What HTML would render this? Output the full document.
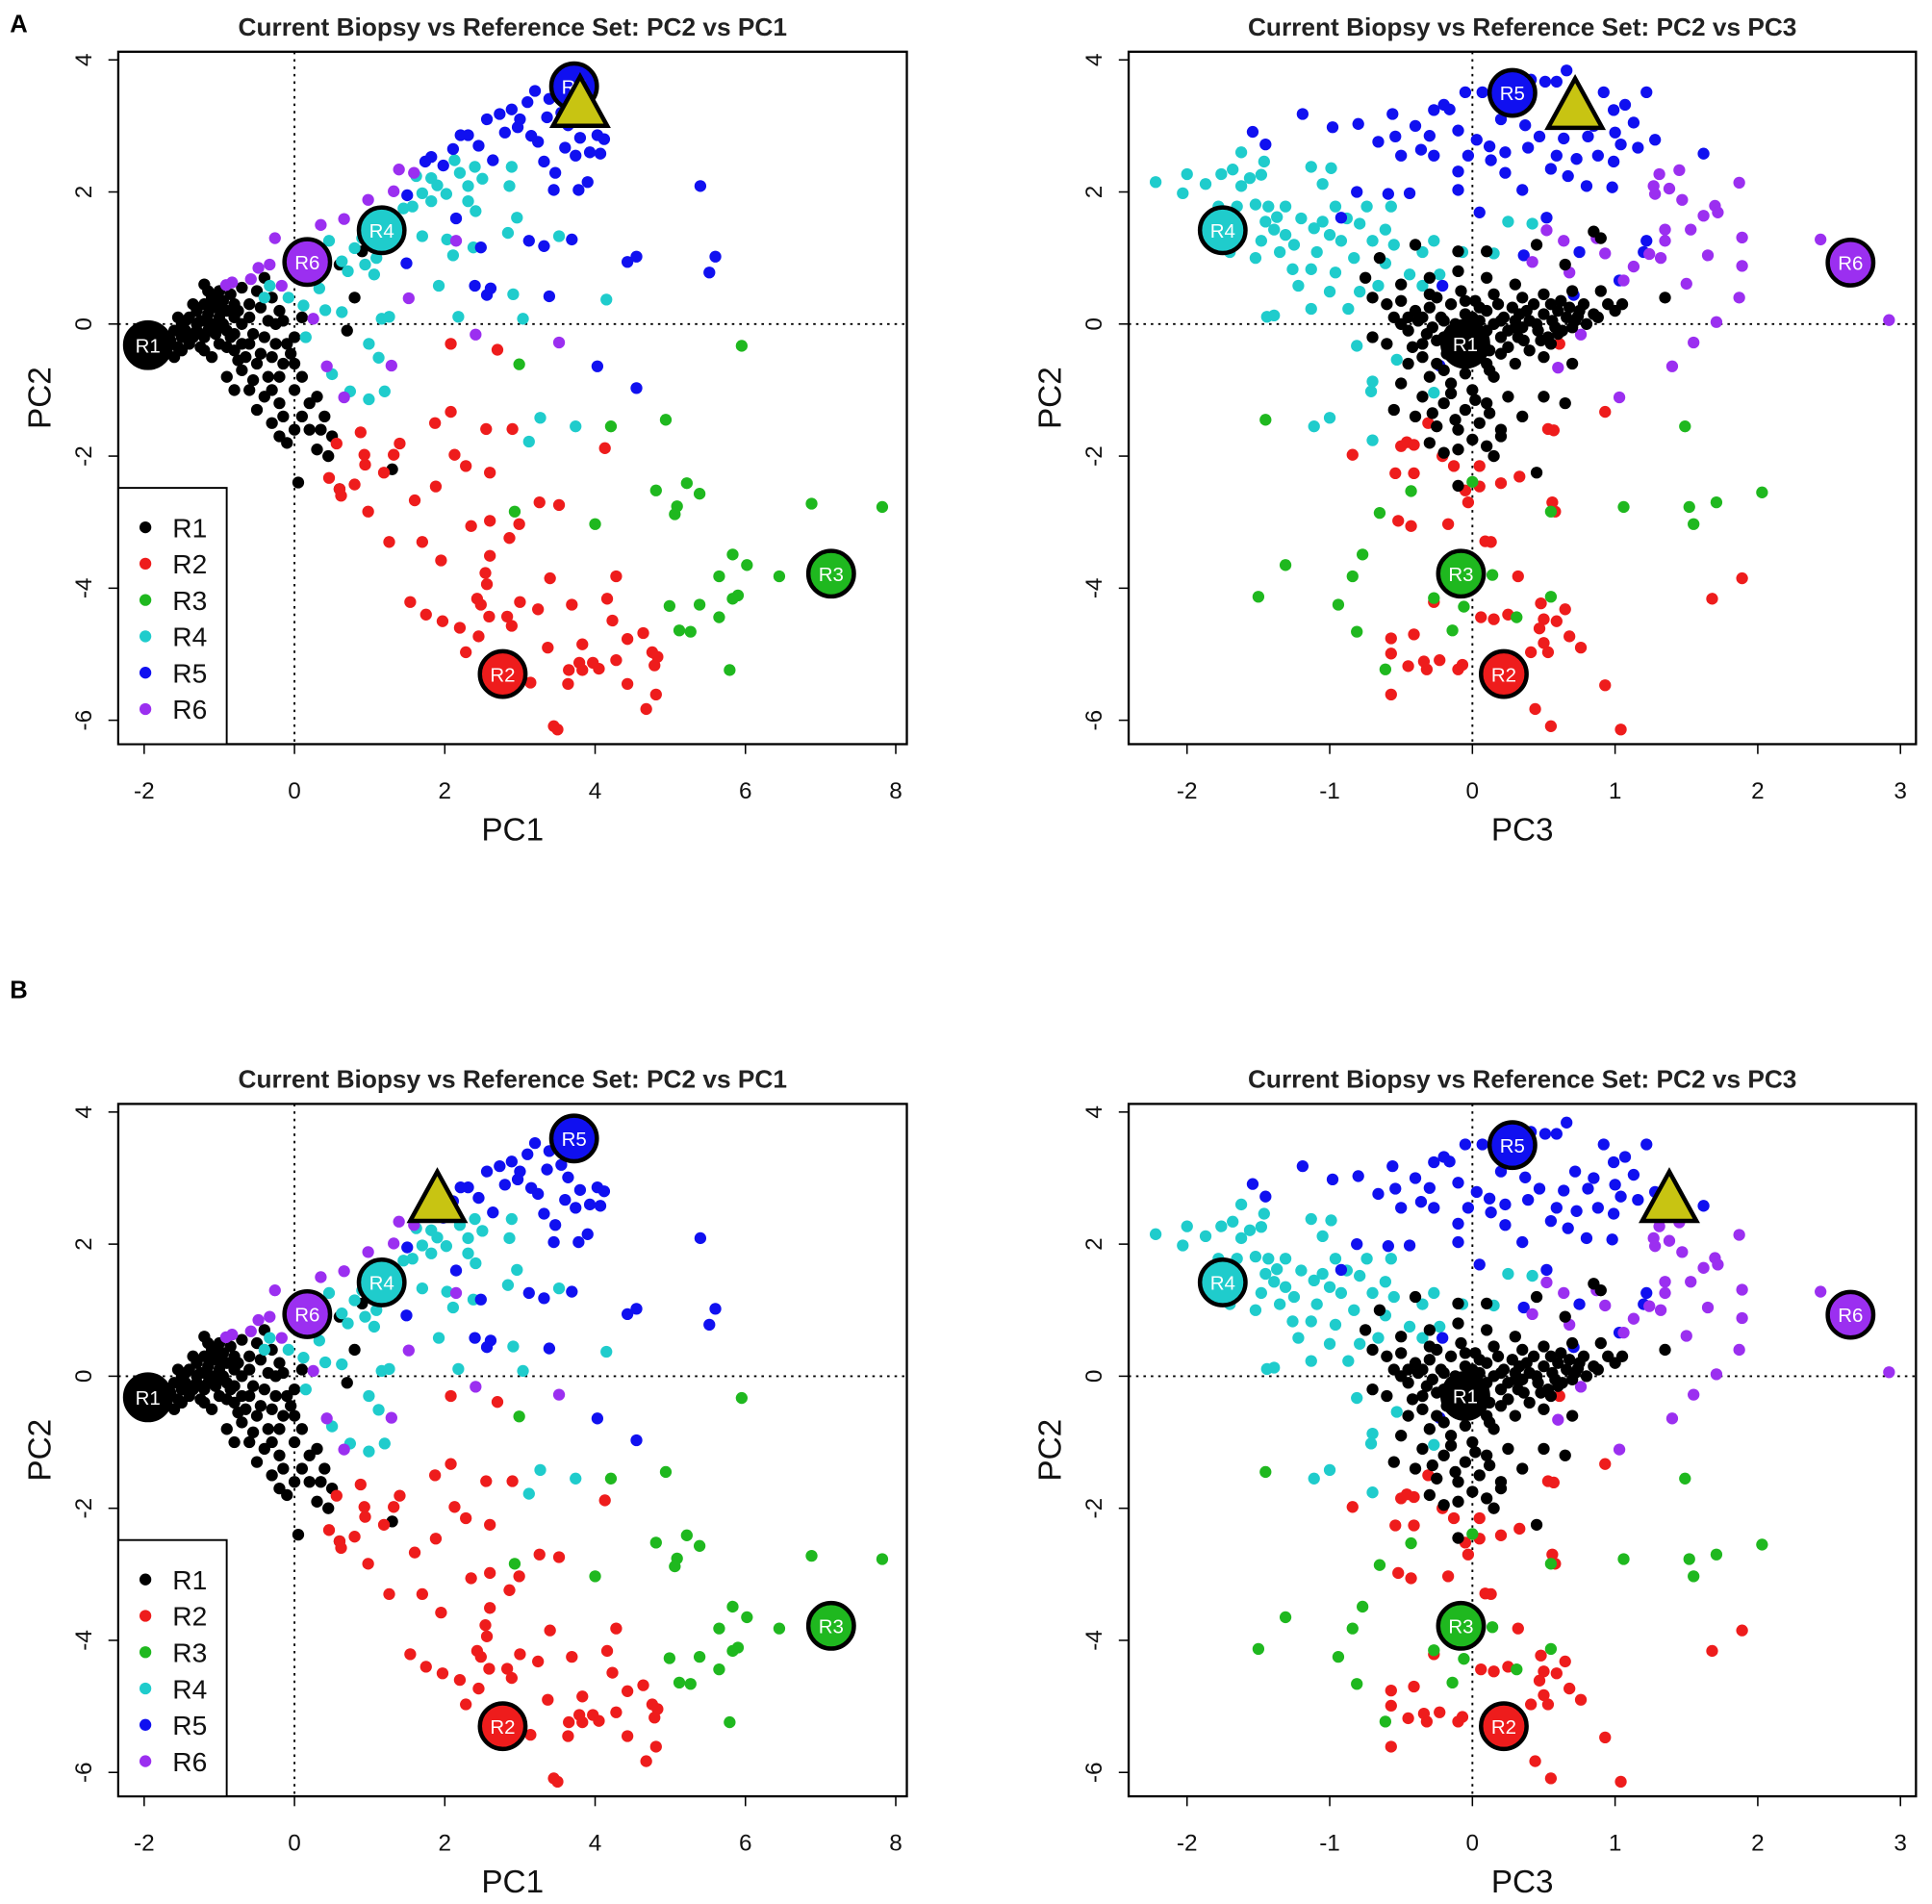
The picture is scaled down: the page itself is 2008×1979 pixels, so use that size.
<!DOCTYPE html>
<html><head><meta charset="utf-8"><style>
html,body{margin:0;padding:0;background:#fff}
svg{display:block}
text{font-family:"Liberation Sans",Arial,sans-serif}
</style></head><body>
<svg id="fig" width="2008" height="1979" viewBox="0 0 1568 1545.4" preserveAspectRatio="none" xmlns="http://www.w3.org/2000/svg"></svg>
<script>
// ---- data: left panels (PC1, PC2) ----
const leftR1=[[-1.6,-0.1],[-1.5,0],[-1.4,0.1],[-1.3,0.2],[-1.2,0.3],[-1.1,0.4],[-1.0,0.5],[-1.3,-0.1],[-1.2,-0.2],[-1.1,0],[-1.0,0.1],[-0.9,0.2],[-0.8,0.3],[-0.9,-0.1],[-1.0,-0.3],[-1.4,-0.3],[-1.5,-0.2],[-1.7,-0.4],[-1.6,-0.5],[-1.1,-0.5],[-0.8,-0.4],[-0.7,0],[-0.6,0.3],[-0.5,0.5],[-0.4,0.7],[-0.3,0.4],[-0.6,-0.3],[-0.5,-0.6],[-0.4,-0.2],[-0.3,-0.5],[-0.2,-0.8],[-0.1,-0.3],[0,-0.6],[-0.7,-0.7],[-0.9,-0.8],[-0.6,-1.0],[-0.4,-1.1],[-0.2,-1.2],[0,-1.0],[0.1,-1.4],[-0.3,-1.5],[-0.1,-1.8],[0.2,-1.6],[0.3,-1.9],[0.4,-1.4],[0.5,-1.7],[0.2,-1.2],[-0.5,-1.3],[0,-0.2],[0.1,0.1],[0.3,0.8],[0.6,0.9],[0.9,1.1],[0.8,0.4],[1.3,-2.2],[0.05,-2.4],[0.7,-0.1],[-0.8,0.1],[-1.2,0.6],[-0.2,0.2],[-1.25,0.05],[-1.15,-0.1],[-1.05,0.25],[-0.95,0.35],[-1.35,-0.2],[-1.45,0.05],[-0.85,-0.2],[-0.75,0.2],[-1.55,-0.35],[-0.65,-0.5],[-0.35,-0.8],[-0.15,-0.6],[0.3,-1.1],[0.45,-2.0],[0.6,-2.5],[-0.25,0],[-1.65,-0.25],[-1.55,0.1],[-1.45,-0.1],[-1.35,0.3],[-1.25,-0.35],[-1.15,0.15],[-1.05,-0.15],[-0.95,0.0],[-0.85,0.45],[-1.2,0.05],[-1.1,0.25],[-1.0,-0.05],[-0.9,-0.35],[-1.3,0.0],[-1.4,-0.15],[-1.5,-0.4],[-1.2,-0.4],[-0.8,-0.15],[-0.7,-0.3],[-0.6,0.1],[-0.55,-0.15],[-0.45,0.25],[-0.35,0.05],[-0.25,-0.3],[-0.15,0.05],[-0.05,-0.45],[-0.75,-0.55],[-0.55,-0.85],[-0.8,-1.0],[-0.45,-0.45],[0.1,-0.8],[-0.3,-1.0],[-0.15,-1.4],[0.0,-1.6],[-0.2,-1.7],[0.35,-1.6],[-1.15,0.5],[-1.0,0.35],[-0.7,0.55],[-0.95,0.2]];
const leftR2=[[2.08,-0.3],[2.7,-0.39],[1.87,-1.5],[2.08,-1.33],[2.55,-1.59],[2.9,-1.59],[0.88,-1.64],[0.56,-1.81],[0.93,-1.98],[1.4,-1.81],[1.32,-1.98],[2.13,-1.98],[4.13,-1.88],[0.94,-2.13],[1.19,-2.25],[2.6,-2.25],[2.28,-2.15],[0.46,-2.33],[0.6,-2.5],[0.8,-2.43],[1.88,-2.46],[1.6,-2.67],[0.62,-2.6],[0.98,-2.84],[3.26,-2.7],[3.52,-2.74],[2.35,-3.06],[2.6,-2.98],[2.99,-3.03],[2.86,-3.24],[1.26,-3.3],[1.7,-3.3],[2.6,-3.51],[1.95,-3.58],[2.54,-3.77],[2.56,-3.94],[3.4,-3.85],[4.28,-3.82],[1.54,-4.21],[2.43,-4.16],[2.48,-4.25],[3.0,-4.21],[3.24,-4.32],[3.69,-4.25],[4.16,-4.16],[1.75,-4.4],[1.97,-4.5],[2.2,-4.6],[2.59,-4.43],[2.83,-4.43],[2.89,-4.57],[2.45,-4.73],[4.23,-4.49],[4.64,-4.68],[4.43,-4.77],[3.83,-4.85],[3.37,-4.9],[2.28,-4.97],[4.76,-4.97],[4.83,-5.04],[4.28,-5.09],[3.65,-5.24],[3.79,-5.13],[3.97,-5.13],[4.05,-5.22],[3.83,-5.24],[4.79,-5.17],[3.14,-5.43],[3.64,-5.45],[4.43,-5.45],[4.81,-5.61],[4.68,-5.83],[3.45,-6.09],[3.5,-6.14]];
const leftR3=[[5.95,-0.33],[2.99,-0.61],[4.21,-1.55],[4.94,-1.45],[4.81,-2.52],[5.22,-2.41],[5.39,-2.57],[5.09,-2.76],[5.06,-2.88],[6.88,-2.72],[7.82,-2.77],[2.93,-2.84],[4.0,-3.03],[5.83,-3.49],[6.02,-3.65],[5.65,-3.82],[6.45,-3.82],[5.9,-4.11],[5.83,-4.16],[4.99,-4.27],[5.39,-4.25],[5.65,-4.44],[5.12,-4.64],[5.27,-4.66],[5.79,-5.24]];
const leftR4=[[2.89,2.38],[2.86,2.09],[2.4,2.38],[2.2,2.29],[2.13,2.48],[1.82,2.21],[1.62,2.24],[1.7,1.98],[2.31,2.09],[2.02,1.97],[1.82,1.86],[2.31,1.86],[2.41,1.71],[1.57,1.78],[1.4,1.52],[1.7,1.33],[2.03,1.28],[2.38,1.16],[2.84,1.38],[2.96,1.61],[2.11,1.04],[1.09,1.0],[0.94,0.9],[0.71,0.8],[1.06,0.75],[0.46,1.26],[0.63,0.95],[0.33,0.54],[0.12,0.28],[0.41,0.21],[0.63,0.18],[1.16,0.08],[1.26,0.11],[2.18,0.11],[1.92,0.58],[2.91,0.45],[3.04,0.08],[3.52,1.33],[4.15,0.37],[0.15,-0.2],[0.99,-0.3],[1.12,-0.51],[0.5,-0.76],[0.99,-1.14],[1.2,-1.02],[0.74,-1.02],[3.27,-1.42],[3.74,-1.55],[3.12,-1.78],[-0.33,0.58],[-0.08,0.4],[-0.4,0.4],[1.45,1.75],[1.9,2.1],[2.5,2.2],[1.3,1.2],[0.8,1.15],[0.9,1.3]];
const leftR5=[[3.2,3.53],[3.39,3.41],[3.1,3.36],[2.89,3.25],[2.73,3.18],[2.56,3.1],[2.31,2.86],[2.11,2.65],[1.82,2.53],[1.74,2.46],[1.98,2.4],[1.5,1.95],[2.21,2.86],[2.64,2.48],[2.97,2.98],[3.24,2.76],[3.32,2.46],[3.47,2.29],[3.45,2.03],[3.78,2.03],[3.9,2.15],[3.6,2.67],[3.74,2.55],[3.8,2.82],[4.03,2.86],[4.07,2.58],[3.93,2.6],[3.64,3.01],[3.36,3.13],[5.4,2.09],[3.12,1.26],[3.32,1.18],[3.69,1.28],[2.48,1.16],[2.15,1.6],[1.49,0.92],[4.43,0.94],[4.55,1.02],[5.6,1.02],[5.52,0.78],[2.4,0.58],[2.61,0.54],[2.56,0.44],[3.39,0.42],[4.03,-0.64],[4.55,-0.97],[4.12,2.8],[3.0,3.1],[3.55,3.2],[2.45,2.7],[2.8,2.9],[3.15,2.85]];
const leftR6=[[1.39,2.34],[1.59,2.29],[1.32,2.01],[0.98,1.88],[0.66,1.59],[0.35,1.5],[-0.26,1.3],[-0.33,0.9],[-0.48,0.85],[-0.58,0.68],[-0.83,0.63],[-0.91,0.59],[2.15,1.26],[1.52,0.39],[2.41,-0.16],[3.52,-0.28],[1.29,-0.63],[0.43,-0.64],[0.66,-1.11],[-0.17,0.58],[0.25,0.08]];
const leftCentroids=[[-1.95,-0.32],[2.77,-5.3],[7.14,-3.78],[1.16,1.42],[3.72,3.6],[0.17,0.94]];
// ---- data: right panels (PC3, PC2) ----
const rightR1=[[-0.6,0.3],[-0.55,0.1],[-0.5,0.35],[-0.45,-0.1],[-0.4,0.2],[-0.38,0.05],[-0.35,-0.3],[-0.3,0.25],[-0.28,-0.05],[-0.25,0.4],[-0.22,0.1],[-0.2,-0.2],[-0.18,-0.45],[-0.15,0.3],[-0.12,0.0],[-0.1,-0.3],[-0.08,0.5],[-0.05,0.15],[-0.02,-0.15],[0,-0.5],[0.02,0.35],[0.05,0.05],[0.08,-0.25],[0.1,0.2],[0.12,-0.4],[0.15,0.0],[0.18,0.3],[0.2,-0.2],[0.22,0.1],[0.25,-0.35],[0.28,0.25],[0.3,-0.05],[0.33,0.15],[0.36,-0.25],[0.4,0.05],[0.43,0.3],[0.46,-0.1],[0.5,0.15],[0.53,-0.2],[0.56,0.05],[0.6,0.2],[0.63,-0.1],[0.66,0.1],[0.7,-0.05],[0.74,0.12],[0.78,0.3],[0.85,0.15],[0.95,0.3],[1.0,0.2],[1.05,0.3],[0.9,0.5],[0.7,0.5],[0.5,0.45],[0.3,0.6],[0.1,0.7],[-0.1,0.8],[-0.3,0.7],[-0.5,0.6],[-0.7,0.4],[-0.75,0.7],[-0.65,1.0],[-0.4,1.2],[-0.1,1.1],[0.1,1.1],[0.45,1.2],[0.65,0.9],[0.85,1.4],[0.9,1.3],[1.35,0.4],[-0.45,-0.6],[-0.3,-0.8],[-0.15,-0.9],[0,-1.0],[0.15,-0.8],[0.3,-0.6],[0.5,-0.5],[0.7,-0.6],[-0.5,-0.9],[-0.35,-1.1],[-0.2,-1.2],[-0.05,-1.3],[0.1,-1.2],[0.25,-1.1],[-0.4,-1.4],[-0.25,-1.55],[-0.1,-1.6],[0.05,-1.5],[0.2,-1.6],[0.35,-1.4],[-0.3,-1.8],[-0.1,-1.9],[0.1,-1.85],[0.2,-1.7],[0.5,-1.1],[0.65,-1.2],[-0.55,-1.3],[0.45,-2.25],[-0.1,-2.45],[-0.6,-0.3],[-0.7,-0.2],[0.4,-0.4],[0.55,-0.3],[-0.35,0.1],[-0.15,-0.1],[0.05,0.25],[0.25,-0.1],[0.45,0.0],[0.62,0.35],[-0.25,-0.6],[0.1,-0.6],[-0.45,0.1],[-0.32,-0.15],[-0.2,0.05],[-0.08,-0.05],[0.0,0.1],[0.1,-0.1],[0.2,0.05],[0.32,-0.2],[0.38,0.2],[0.48,-0.25],[0.58,-0.05],[0.68,0.25],[0.72,0.05],[0.8,0.0],[0.88,0.1],[-0.42,-0.35],[-0.25,-0.25],[-0.1,-0.55],[0.05,-0.35],[0.2,-0.45],[0.35,-0.05],[-0.5,0.0],[-0.3,0.45],[-0.05,0.35],[0.15,0.45],[0.35,0.4],[0.55,0.3],[-0.2,-0.7],[-0.05,-0.75],[0.12,-0.7],[-0.35,-0.5],[-0.15,-1.05],[0.02,-1.15],[-0.28,-1.35],[-0.12,-1.45],[0.12,-1.35],[0.0,-1.75],[-0.2,-1.95],[0.15,-2.0],[0.3,0.05],[0.6,-0.15],[0.75,0.2]];
const rightR2=[[0.93,-1.33],[0.53,-1.59],[0.57,-1.61],[0.61,-0.3],[-0.31,-1.5],[-0.84,-1.98],[-0.5,-1.85],[-0.46,-1.79],[-0.41,-1.83],[-0.21,-2.0],[-0.13,-2.15],[-0.54,-2.26],[-0.41,-2.26],[0.05,-2.15],[0.2,-2.41],[0.33,-2.31],[-0.05,-2.52],[0.05,-2.46],[-0.03,-2.7],[0.56,-2.7],[0.58,-2.84],[-0.52,-2.98],[-0.43,-3.06],[-0.17,-3.03],[0.09,-3.29],[0.13,-3.3],[0.32,-3.82],[1.89,-3.85],[1.68,-4.16],[-0.27,-4.21],[0.48,-4.23],[0.65,-4.32],[0.06,-4.44],[0.15,-4.47],[0.25,-4.4],[0.5,-4.47],[0.47,-4.61],[0.59,-4.5],[0.68,-4.73],[0.5,-4.83],[0.76,-4.9],[0.41,-4.97],[0.53,-4.97],[-0.57,-4.76],[-0.41,-4.7],[-0.57,-4.99],[-0.34,-5.11],[-0.45,-5.18],[-0.32,-5.23],[-0.23,-5.09],[-0.1,-5.23],[-0.07,-5.16],[-0.57,-5.61],[0.93,-5.47],[0.44,-5.83],[0.55,-6.09],[1.04,-6.14]];
const rightR3=[[-1.45,-1.45],[-1.5,-4.13],[-1.31,-3.65],[-0.94,-4.25],[-0.84,-3.82],[-0.77,-3.49],[-0.81,-4.66],[-0.65,-2.86],[-0.43,-2.53],[-0.27,-4.15],[-0.14,-4.64],[-0.06,-4.28],[0.14,-3.8],[0.31,-4.44],[0.55,-4.13],[0.55,-2.84],[-0.61,-5.23],[1.06,-2.77],[1.52,-2.77],[1.55,-3.03],[1.71,-2.7],[2.03,-2.55],[1.49,-1.55],[0,-2.39]];
const rightR4=[[-2.22,2.15],[-2.0,2.27],[-2.03,1.98],[-1.87,2.12],[-1.76,2.27],[-1.68,2.34],[-1.62,2.6],[-1.62,2.09],[-1.56,2.21],[-1.46,2.46],[-1.48,2.26],[-1.78,1.78],[-1.65,1.78],[-1.52,1.81],[-1.43,1.78],[-1.37,1.62],[-1.31,1.78],[-1.39,1.43],[-1.31,1.35],[-1.48,1.26],[-1.7,1.09],[-1.52,1.0],[-1.35,1.09],[-1.26,0.83],[-1.22,0.58],[-1.13,2.38],[-0.99,2.36],[-1.05,2.12],[-0.96,1.78],[-1.11,1.45],[-1.0,1.35],[-0.92,1.26],[-1.09,1.09],[-1.13,0.83],[-0.96,0.78],[-1.0,0.49],[-0.83,1.0],[-0.79,1.52],[-0.74,1.78],[-0.57,1.78],[-0.61,1.43],[-0.7,1.26],[-0.61,0.92],[-0.79,0.49],[-0.87,0.23],[-0.66,0.58],[-0.44,0.75],[-0.35,1.09],[-0.27,1.26],[-0.35,0.58],[-0.23,0.75],[-0.07,1.09],[0.15,1.07],[0.25,1.55],[0.42,1.52],[-1.44,0.11],[-1.39,0.13],[-0.81,-0.33],[-0.7,-0.87],[-0.71,-1.02],[-1.0,-1.42],[-1.11,-1.55],[-0.7,-1.76],[-0.27,-1.04],[-1.13,0.23],[-0.53,-0.54],[-1.2,1.6],[-1.05,1.55],[-1.25,1.2],[-0.88,1.6],[-0.55,1.2],[-1.45,1.55]];
const rightR5=[[-1.19,3.18],[-1.54,2.91],[-1.45,2.72],[-0.98,2.98],[-0.8,3.03],[-0.56,3.18],[-0.4,3.0],[-0.27,3.24],[-0.2,3.32],[-0.16,3.25],[-0.05,3.51],[0.07,3.51],[-0.66,2.76],[-0.54,2.84],[-0.5,2.55],[-0.36,2.64],[-0.27,2.55],[-0.1,2.93],[0.03,2.79],[-0.03,2.55],[0.12,2.69],[0.23,2.6],[0.13,2.48],[0.37,3.01],[0.47,2.84],[0.39,2.67],[0.59,2.55],[0.64,2.81],[0.73,2.5],[0.81,2.84],[0.88,2.55],[0.99,2.46],[1.04,2.72],[1.16,2.67],[1.28,2.79],[0.99,3.24],[1.07,3.32],[1.13,3.05],[1.22,3.51],[0.92,3.51],[0.59,3.67],[0.66,3.84],[0.41,3.7],[0.51,3.67],[1.62,2.58],[0.67,2.24],[0.8,2.09],[0.98,2.07],[0.35,2.03],[0.23,2.29],[-0.1,2.31],[-0.1,2.03],[-0.44,1.98],[-0.59,1.97],[-0.81,2.0],[-0.92,1.61],[0.05,1.69],[0.52,1.61],[0.75,1.09],[1.22,1.26],[1.2,1.09],[0.36,1.04],[-0.21,0.58],[1.03,0.66],[0.71,0.44],[-0.23,-0.63],[0.85,3.0],[0.72,3.1],[1.0,2.9],[0.2,3.1],[-0.3,2.85],[0.55,2.35]];
const rightR6=[[1.31,2.27],[1.45,2.33],[1.27,2.09],[1.38,2.05],[1.28,1.97],[1.47,1.88],[1.87,2.14],[1.7,1.79],[1.72,1.69],[1.62,1.64],[1.53,1.43],[1.35,1.43],[1.89,1.31],[1.35,1.26],[1.65,1.04],[1.24,1.06],[1.32,1.0],[1.13,0.87],[1.89,0.88],[1.5,0.61],[1.06,0.66],[1.87,0.4],[1.71,0.03],[2.44,1.28],[2.92,0.06],[1.55,-0.28],[1.4,-0.64],[1.03,-1.11],[0.76,-0.16],[0.6,-0.66],[0.52,1.42],[0.64,1.26],[0.68,0.78],[0.87,1.3],[0.93,1.07],[0.42,0.94]];
const rightCentroids=[[-0.05,-0.3],[0.22,-5.3],[-0.08,-3.78],[-1.75,1.42],[0.28,3.5],[2.65,0.93]];
const groupLabels=["R1","R2","R3","R4","R5","R6"];
const biopsyA=[[3.8,3.3],[0.72,3.27]]; // [PC1,PC2], [PC3,PC2]
const biopsyB=[[1.9,2.65],[1.38,2.65]];
const xTicksLeft=[-2,0,2,4,6,8];
const xTicksRight=[-2,-1,0,1,2,3];
const yTicks=[4,2,0,-2,-4,-6];
const colors=["#000000","#ee1c1c","#1fb81f","#1fcccc","#1010f0","#9b2ff0"];

const NS="http://www.w3.org/2000/svg";
const svg=document.getElementById('fig');
function mk(tag,attrs,parent){const e=document.createElementNS(NS,tag);for(const k in attrs)e.setAttribute(k,attrs[k]);(parent||svg).appendChild(e);return e;}

function panel(opt){
  const g=mk('g',{});
  
  
  const L=opt.left,R=opt.right,T=opt.top,B=opt.bottom;
  const sx=v=>opt.x0+opt.xs*v;
  const sy=v=>opt.y0-53.6*v;
  const title=mk('text',{x:(L+R)/2,y:T-13,'text-anchor':'middle','font-size':20.5,'font-weight':'bold',fill:'#222'},g);
  title.textContent=opt.title;
  
  
  const vx=mk('line',{x1:sx(0),x2:sx(0),y1:T,y2:B,stroke:'#000','stroke-width':1.5,'stroke-dasharray':'2,4'},g);
  
  
  const hz=mk('line',{x1:L,x2:R,y1:sy(0),y2:sy(0),stroke:'#000','stroke-width':1.5,'stroke-dasharray':'2,4'},g);
  
  
  opt.order.forEach(gi=>{
    opt.groups[gi].forEach(p=>{
      const c=mk('circle',{cx:sx(p[0]),cy:sy(p[1]),r:4.8,fill:colors[gi]},g);
      
      
    });
  });
  opt.centroids.forEach((p,gi)=>{
    const c=mk('circle',{cx:sx(p[0]),cy:sy(p[1]),r:18.5,fill:colors[gi],stroke:'#000','stroke-width':3.5},g);
    
    
    const t=mk('text',{x:sx(p[0]),y:sy(p[1])+6,'text-anchor':'middle','font-size':16,fill:'#fff'},g);
    t.textContent=groupLabels[gi];
    
    
  });
  const bx=sx(opt.biopsy[0]),by=sy(opt.biopsy[1]);
  const tri=mk('polygon',{points:`${bx},${by-24} ${bx-22},${by+16} ${bx+22},${by+16}`,fill:'#c8c412',stroke:'#000','stroke-width':3.5,'stroke-linejoin':'miter'},g);
  
  
  const box=mk('rect',{x:L,y:T,width:R-L,height:B-T,fill:'none',stroke:'#000','stroke-width':1.8},g);
  
  
  opt.xticks.forEach(v=>{
    mk('line',{x1:sx(v),x2:sx(v),y1:B,y2:B+8,stroke:'#000','stroke-width':1.2},g);
    const t=mk('text',{x:sx(v),y:B+44,'text-anchor':'middle','font-size':19,fill:'#111'},g);
    t.textContent=v;
    
    
  });
  yTicks.forEach(v=>{
    mk('line',{x1:L-8,x2:L,y1:sy(v),y2:sy(v),stroke:'#000','stroke-width':1.2},g);
    const t=mk('text',{x:L-22,y:sy(v),'text-anchor':'middle','font-size':19,fill:'#111',transform:`rotate(-90 ${L-22} ${sy(v)})`},g);
    t.textContent=v;
    
    
  });
  const xl=mk('text',{x:(L+R)/2,y:B+78,'text-anchor':'middle','font-size':26,fill:'#111'},g);
  xl.textContent=opt.xlabel;
  
  
  const yx=L-55,yy=(T+B)/2;
  const yl=mk('text',{x:yx,y:yy,'text-anchor':'middle','font-size':26,fill:'#111',transform:`rotate(-90 ${yx} ${yy})`},g);
  yl.textContent='PC2';
  
  
  if(opt.legend){
    const lg=mk('g',{},g);
    
    
    const lt=B-208;
    mk('rect',{x:L,y:lt,width:88,height:208,fill:'#fff',stroke:'#000','stroke-width':1.5},lg);
    groupLabels.forEach((lab,i)=>{
      const yy2=lt+32+i*29.5;
      const d=mk('circle',{cx:L+22,cy:yy2,r:4.8,fill:colors[i]},lg);
      
      
      const t=mk('text',{x:L+44,y:yy2+8,'font-size':22,fill:'#111'},lg);
      t.textContent=lab;
      
      
    });
  }
}
const leftGroups=[leftR1,leftR2,leftR3,leftR4,leftR5,leftR6];
const rightGroups=[rightR1,rightR2,rightR3,rightR4,rightR5,rightR6];
[[42,604,263,biopsyA],[896,1458,1117,biopsyB]].forEach((row,ri)=>{
  panel({name:'panel-'+(ri?'b':'a')+'-pc2-vs-pc1',left:96,right:736,top:row[0],bottom:row[1],x0:239,xs:61,y0:row[2],
    title:'Current Biopsy vs Reference Set: PC2 vs PC1',xlabel:'PC1',xticks:xTicksLeft,groups:leftGroups,order:[0,1,2,3,4,5],
    centroids:leftCentroids,biopsy:row[3][0],legend:true});
  panel({name:'panel-'+(ri?'b':'a')+'-pc2-vs-pc3',left:916,right:1555,top:row[0],bottom:row[1],x0:1195,xs:115.8,y0:row[2],
    title:'Current Biopsy vs Reference Set: PC2 vs PC3',xlabel:'PC3',xticks:xTicksRight,groups:rightGroups,order:[3,4,5,1,2,0],
    centroids:rightCentroids,biopsy:row[3][1],legend:false});
});
const la=mk('text',{x:8,y:26,'font-size':20,'font-weight':'bold'});la.textContent='A';


const lb=mk('text',{x:8,y:810,'font-size':20,'font-weight':'bold'});lb.textContent='B';


</script>
</body></html>
